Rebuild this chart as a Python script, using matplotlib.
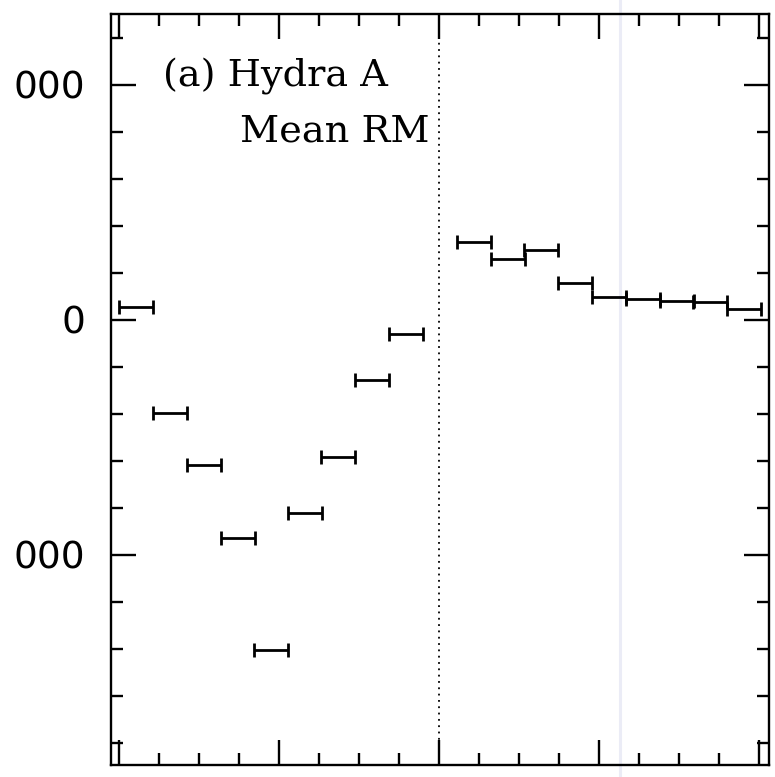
import matplotlib
matplotlib.use("Agg")
import matplotlib.pyplot as plt
from matplotlib.ticker import MultipleLocator, FixedLocator, FixedFormatter
from matplotlib.lines import Line2D

# bin centres (arcsec from the core) and half-widths, west / east lobes
x_west = [-37.9, -33.6, -29.4, -25.1, -21.0, -16.8, -12.6, -8.4, -4.1]
x_east = [4.4, 8.6, 12.8, 17.0, 21.2, 25.5, 29.7, 33.9, 38.1]
half_bin = 2.12

# mean RM in each bin (rad m^-2)
rm_west = [54, -394, -617, -929, -1404, -823, -583, -255, -60]
rm_east = [331, 258, 298, 159, 98, 88, 81, 75, 47]

ytick_vals = [1000, 0, -1000]
ytick_text = ["000", "0", "000"]

fig = plt.figure(figsize=(7.75, 7.77), dpi=100)
ax = fig.add_axes([111 / 775, 12 / 777, 658 / 775, 751 / 777])
ax.set_facecolor("none")

bar_style = dict(fmt="none", ecolor="black", elinewidth=2.0, capsize=5.0, capthick=2.0)
ax.errorbar(x_west, rm_west, xerr=half_bin, **bar_style)
ax.errorbar(x_east, rm_east, xerr=half_bin, **bar_style)

# core position
ax.axvline(0, color="black", linewidth=1.3, linestyle=(0, (1, 2.5)))

ax.set_xlim(-41, 41.25)
ax.set_ylim(-1894, 1302)

ax.xaxis.set_major_locator(MultipleLocator(20))
ax.xaxis.set_minor_locator(MultipleLocator(5))
ax.yaxis.set_major_locator(FixedLocator(ytick_vals))
ax.yaxis.set_major_formatter(FixedFormatter(ytick_text))
ax.yaxis.set_minor_locator(MultipleLocator(200))

ax.tick_params(which="both", direction="in", top=True, right=True,
               labelbottom=False, width=1.7, color="black")
ax.tick_params(which="major", length=18)
ax.tick_params(which="minor", length=8.6)
ax.tick_params(axis="y", which="major", labelsize=27, pad=18.7)
for s in ax.spines.values():
    s.set_linewidth(1.7)

txt = dict(family="DejaVu Serif", fontsize=27.5, va="baseline", ha="left",
           transform=ax.transAxes)
ax.text(0.079, 0.903, "(a) Hydra A", **txt)
ax.text(0.196, 0.8296, "Mean RM", **txt)

# faint vertical streak across the sheet
fig.add_artist(Line2D([620 / 775, 620 / 775], [0, 1], transform=fig.transFigure,
                      color="#ebecf6", linewidth=2.2, zorder=-5))

fig.savefig("out.png", dpi=100)
